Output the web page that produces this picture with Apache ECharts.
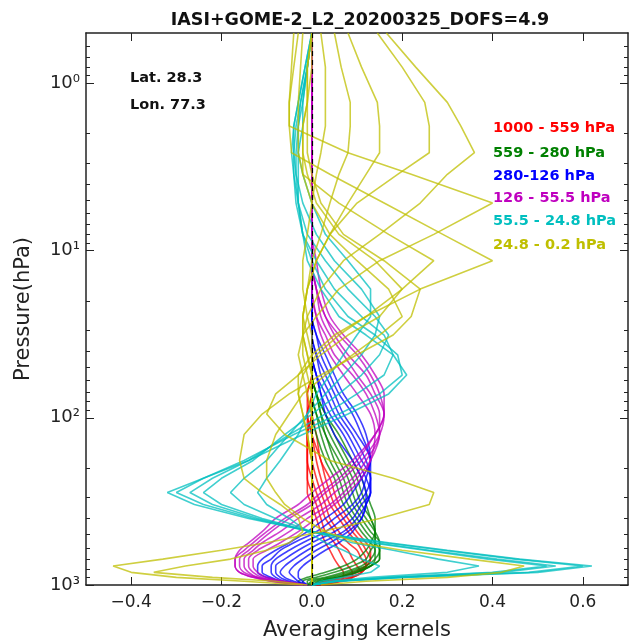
<!DOCTYPE html>
<html>
<head>
<meta charset="utf-8">
<script src="https://cdn.jsdelivr.net/npm/echarts@6.0.0/dist/echarts.min.js"></script>
<style>
  html, body { margin: 0; padding: 0; background: #fff; }
  #main { width: 633px; height: 641px; }
</style>
</head>
<body>
<div id="main"></div>
<script>
// pressure levels (hPa), surface -> top
var pressure = [1000, 950, 900, 840, 770, 700, 620, 559, 480, 400, 330, 280, 230, 180, 126, 95, 72, 55.5, 42, 32, 24.8, 17, 11.5, 8, 5.2, 3.5, 2.6, 1.8, 1.3, 0.8, 0.5];

var xTicks = [-0.4, -0.2, 0, 0.2, 0.4, 0.6];
var yTicks = [1, 10, 100, 1000];
var yTickLabels = ['10⁰', '10¹', '10²', '10³'];
var yMinorTicks = [0.6, 0.7, 0.8, 0.9, 2, 3, 4, 5, 6, 7, 8, 9, 20, 30, 40, 50, 60, 70, 80, 90, 200, 300, 400, 500, 600, 700, 800, 900];

var legendLabels = ['1000 - 559 hPa', '559 - 280 hPa', '280-126 hPa', '126 - 55.5 hPa', '55.5 - 24.8 hPa', '24.8 - 0.2 hPa'];

// averaging kernel rows, one per retrieval level, values at the pressure levels above
var redKernels = [
  [0.02,0.06,0.07,0.07,0.06, 0.05,0.04,0.03,0.02,0.01, 0,-0.01,-0.01,-0.01,-0.01, 0,0,0,0,0, 0,0,0,0,0, 0,0,0,0,0, 0],
  [0.01,0.07,0.09,0.09,0.08, 0.07,0.06,0.05,0.03,0.02, 0.01,0,-0.01,-0.01,-0.01, 0,0,0,0,0, 0,0,0,0,0, 0,0,0,0,0, 0],
  [0.01,0.06,0.09,0.11,0.10, 0.09,0.08,0.06,0.05,0.03, 0.02,0.01,0,-0.01,-0.01, 0,0,0,0,0, 0,0,0,0,0, 0,0,0,0,0, 0],
  [0,0.05,0.09,0.11,0.12, 0.11,0.10,0.08,0.06,0.04, 0.03,0.02,0.01,0,-0.01, -0.01,0,0,0,0, 0,0,0,0,0, 0,0,0,0,0, 0],
  [0,0.04,0.08,0.11,0.12, 0.12,0.11,0.10,0.08,0.06, 0.04,0.03,0.02,0.01,0, -0.01,0,0,0,0, 0,0,0,0,0, 0,0,0,0,0, 0],
  [0,0.03,0.07,0.10,0.12, 0.13,0.12,0.11,0.09,0.07, 0.05,0.04,0.03,0.02,0, -0.01,-0.01,0,0,0, 0,0,0,0,0, 0,0,0,0,0, 0],
  [0,0.02,0.06,0.09,0.12, 0.13,0.13,0.12,0.10,0.08, 0.06,0.05,0.04,0.02,0.01, 0,-0.01,0,0,0, 0,0,0,0,0, 0,0,0,0,0, 0]
];
var greenKernels = [
  [0,0.02,0.06,0.10,0.13, 0.14,0.14,0.13,0.11,0.09, 0.07,0.06,0.05,0.03,0.01, 0,0,0,0,0, 0,0,0,0,0, 0,0,0,0,0, 0],
  [0,0.02,0.06,0.10,0.13, 0.15,0.15,0.14,0.12,0.10, 0.08,0.07,0.06,0.04,0.02, 0.01,0,0,0,0, 0,0,0,0,0, 0,0,0,0,0, 0],
  [-0.01,0.01,0.05,0.09,0.13, 0.15,0.15,0.15,0.13,0.11, 0.09,0.08,0.07,0.05,0.03, 0.01,0,0,0,0, 0,0,0,0,0, 0,0,0,0,0, 0],
  [-0.01,0,0.04,0.08,0.12, 0.14,0.15,0.15,0.14,0.12, 0.10,0.09,0.08,0.06,0.03, 0.02,0.01,0,0,0, 0,0,0,0,0, 0,0,0,0,0, 0],
  [-0.01,-0.01,0.03,0.07,0.11, 0.13,0.14,0.14,0.14,0.13, 0.11,0.10,0.09,0.07,0.04, 0.02,0.01,0,0,0, 0,0,0,0,0, 0,0,0,0,0, 0],
  [-0.02,-0.02,0.01,0.05,0.09, 0.12,0.13,0.14,0.14,0.13, 0.12,0.11,0.10,0.08,0.05, 0.03,0.01,0,0,0, 0,0,0,0,0, 0,0,0,0,0, 0],
  [-0.02,-0.03,-0.01,0.03,0.07, 0.10,0.12,0.13,0.14,0.14, 0.13,0.12,0.11,0.09,0.06, 0.03,0.01,0,0,0, 0,0,0,0,0, 0,0,0,0,0, 0]
];
var blueKernels = [
  [-0.01,-0.02,-0.03,-0.03,-0.02, 0,0.03,0.06,0.09,0.11, 0.12,0.12,0.11,0.09,0.05, 0.03,0.02,0.01,0,0, 0,0,0,0,0, 0,0,0,0,0, 0],
  [-0.01,-0.03,-0.04,-0.05,-0.04, -0.02,0.01,0.04,0.08,0.11, 0.12,0.13,0.12,0.10,0.07, 0.04,0.02,0.01,0,0, 0,0,0,0,0, 0,0,0,0,0, 0],
  [-0.01,-0.04,-0.06,-0.07,-0.06, -0.04,-0.01,0.02,0.07,0.10, 0.12,0.13,0.13,0.11,0.08, 0.05,0.03,0.01,0,0, 0,0,0,0,0, 0,0,0,0,0, 0],
  [-0.02,-0.05,-0.07,-0.08,-0.08, -0.06,-0.03,0,0.05,0.09, 0.11,0.13,0.13,0.12,0.09, 0.06,0.04,0.02,0.01,0, 0,0,0,0,0, 0,0,0,0,0, 0],
  [-0.02,-0.06,-0.08,-0.09,-0.09, -0.08,-0.05,-0.02,0.03,0.07, 0.10,0.12,0.13,0.13,0.10, 0.07,0.05,0.03,0.01,0, 0,0,0,0,0, 0,0,0,0,0, 0],
  [-0.02,-0.07,-0.09,-0.11,-0.11, -0.09,-0.07,-0.04,0.01,0.05, 0.09,0.11,0.12,0.13,0.11, 0.09,0.06,0.04,0.02,0.01, 0,0,0,0,0, 0,0,0,0,0, 0],
  [-0.03,-0.07,-0.10,-0.12,-0.12, -0.11,-0.08,-0.05,-0.01,0.03, 0.07,0.09,0.11,0.13,0.12, 0.10,0.07,0.05,0.03,0.01, 0,0,0,0,0, 0,0,0,0,0, 0]
];
var magentaKernels = [
  [-0.01,-0.06,-0.10,-0.12,-0.13, -0.13,-0.10,-0.07,-0.03,0.01, 0.05,0.08,0.11,0.13,0.14, 0.13,0.10,0.07,0.04,0.02, 0.01,0,0,0,0, 0,0,0,0,0, 0],
  [-0.01,-0.07,-0.11,-0.13,-0.14, -0.14,-0.12,-0.09,-0.05,-0.01, 0.04,0.07,0.10,0.13,0.15, 0.14,0.12,0.09,0.05,0.03, 0.01,0,0,0,0, 0,0,0,0,0, 0],
  [-0.02,-0.08,-0.12,-0.14,-0.15, -0.15,-0.13,-0.11,-0.07,-0.03, 0.02,0.05,0.09,0.12,0.15, 0.15,0.13,0.10,0.07,0.04, 0.02,0.01,0,0,0, 0,0,0,0,0, 0],
  [-0.02,-0.08,-0.12,-0.15,-0.16, -0.16,-0.14,-0.12,-0.09,-0.05, 0,0.03,0.07,0.11,0.15, 0.16,0.14,0.12,0.08,0.05, 0.03,0.01,0,0,0, 0,0,0,0,0, 0],
  [-0.02,-0.09,-0.13,-0.16,-0.17, -0.17,-0.15,-0.13,-0.10,-0.06, -0.01,0.02,0.06,0.10,0.14, 0.16,0.15,0.13,0.10,0.06, 0.03,0.01,0,0,0, 0,0,0,0,0, 0],
  [-0.03,-0.09,-0.13,-0.16,-0.17, -0.17,-0.16,-0.14,-0.11,-0.08, -0.03,0,0.04,0.09,0.14, 0.16,0.16,0.14,0.11,0.07, 0.04,0.02,0.01,0,0, 0,0,0,0,0, 0]
];
var cyanKernels = [
  [0,0.06,0.20,0.50,0.62, 0.46,0.30,0.17,0,-0.14, -0.26,-0.32,-0.24,-0.14,-0.02, 0.08,0.17,0.21,0.18,0.12, 0.06,0.02,-0.01,-0.02,-0.03, -0.03,-0.03,-0.02,-0.02,-0.01, 0],
  [0,0.06,0.20,0.48,0.60, 0.45,0.29,0.16,0,-0.13, -0.24,-0.30,-0.24,-0.15,-0.04, 0.06,0.15,0.20,0.19,0.14, 0.08,0.03,0,-0.02,-0.03, -0.035,-0.035,-0.03,-0.02,-0.01, 0],
  [0,0.05,0.18,0.42,0.54, 0.41,0.26,0.14,0,-0.12, -0.22,-0.27,-0.22,-0.14,-0.05, 0.03,0.10,0.16,0.18,0.16, 0.11,0.05,0.01,-0.02,-0.035, -0.04,-0.04,-0.035,-0.025,-0.01, 0],
  [0,0.05,0.17,0.40,0.52, 0.39,0.25,0.13,0,-0.11, -0.20,-0.24,-0.20,-0.13,-0.06, 0,0.06,0.11,0.15,0.17, 0.14,0.08,0.03,-0.01,-0.03, -0.04,-0.045,-0.04,-0.03,-0.015, 0],
  [0,0.04,0.13,0.30,0.37, 0.28,0.18,0.09,0,-0.08, -0.15,-0.18,-0.15,-0.10,-0.05, -0.01,0.03,0.07,0.11,0.14, 0.15,0.11,0.05,0.01,-0.02, -0.035,-0.04,-0.04,-0.03,-0.015, 0],
  [0,0.02,0.07,0.13,0.15, 0.11,0.07,0.03,-0.01,-0.05, -0.10,-0.12,-0.10,-0.07,-0.03, -0.01,0.01,0.04,0.07,0.10, 0.13,0.13,0.08,0.03,0, -0.02,-0.03,-0.03,-0.025,-0.01, 0]
];
var yellowKernels = [
  [-0.02,-0.15,-0.30,-0.40,-0.44, -0.33,-0.20,-0.10,0.02,0.15, 0.26,0.27,0.18,0.04,-0.06, -0.10,-0.08,-0.03,0.02,0.08, 0.15,0.20,0.14,0.06,0.01, -0.01,-0.02,-0.02,-0.01,-0.01, 0],
  [-0.01,-0.08,-0.22,-0.35,-0.28, -0.18,-0.10,-0.05,-0.02,-0.03, -0.07,-0.11,-0.15,-0.16,-0.15, -0.11,-0.05,0.02,0.10,0.18, 0.22,0.24,0.16,0.07,0.02, 0,-0.01,-0.01,-0.01,0, 0],
  [0.02,0.12,0.30,0.42,0.47, 0.35,0.20,0.10,0.03,-0.02, -0.06,-0.08,-0.10,-0.10,-0.08, -0.05,-0.02,0.03,0.09,0.15, 0.20,0.17,0.10,0.04,0, -0.02,-0.02,-0.02,-0.01,-0.01, 0],
  [0,0,0,0,0, 0,0,0,0,0, 0,0,0,0,-0.01, -0.02,-0.03,-0.02,0.01,0.06, 0.12,0.20,0.27,0.17,0.06, -0.02,-0.03,-0.03,-0.03,-0.025, -0.02],
  [0,0,0,0,0, 0,0,0,0,0, 0,0,0,0,-0.01, -0.02,-0.03,-0.03,0,0.05, 0.12,0.24,0.40,0.29,0.16, 0.04,-0.045,-0.05,-0.05,-0.045, -0.04],
  [0,0,0,0,0, 0,0,0,0,0, 0,0,0,0,0, 0,-0.01,-0.02,-0.03,-0.02, 0.01,0.06,0.15,0.27,0.40, 0.22,0.08,-0.05,-0.05,-0.04, -0.03],
  [0,0,0,0,0, 0,0,0,0,0, 0,0,0,0,0, 0,0,-0.01,-0.02,-0.02, -0.01,0.02,0.07,0.15,0.24, 0.30,0.36,0.33,0.30,0.23, 0.165],
  [0,0,0,0,0, 0,0,0,0,0, 0,0,0,0,0, 0,0,0,-0.01,-0.02, -0.02,-0.01,0.01,0.04,0.10, 0.19,0.26,0.26,0.25,0.20, 0.145],
  [0,0,0,0,0, 0,0,0,0,0, 0,0,0,0,0, 0,0,0,-0.01,-0.02, -0.02,-0.01,0.01,0.04,0.08, 0.12,0.15,0.15,0.145,0.11, 0.08],
  [0,0,0,0,0, 0,0,0,0,0, 0,0,0,0,0, 0,0,0,0,-0.01, -0.02,-0.01,0,0.02,0.04, 0.06,0.08,0.085,0.085,0.065, 0.05],
  [0,0,0,0,0, 0,0,0,0,0, 0,0,0,0,0, 0,0,0,0,0, -0.01,-0.02,-0.02,-0.01,0, 0.01,0.02,0.03,0.03,0.03, 0.02]
];

var groups = [
  { color: '#ff0000', kernels: redKernels, smooth: 0.3 },
  { color: '#008000', kernels: greenKernels, smooth: 0.3 },
  { color: '#0000ff', kernels: blueKernels, smooth: 0.3 },
  { color: '#bf00bf', kernels: magentaKernels, smooth: 0.3 },
  { color: '#00bfbf', kernels: cyanKernels, smooth: false },
  { color: '#bfbf00', kernels: yellowKernels, smooth: false }
];

var series = [];
groups.forEach(function (g, gi) {
  g.kernels.forEach(function (k) {
    series.push({
      name: legendLabels[gi],
      type: 'line',
      xAxisIndex: 0,
      yAxisIndex: 0,
      data: k.map(function (v, i) { return [v, pressure[i]]; }),
      symbol: 'none',
      smooth: g.smooth,
      silent: true,
      lineStyle: { color: g.color, width: 1.6, opacity: 0.75 }
    });
  });
});
// zero line
series[0].markLine = {
  silent: true,
  symbol: 'none',
  label: { show: false },
  lineStyle: { color: '#000', type: [5, 4], width: 1.2 },
  data: [{ xAxis: 0 }]
};

var FONT = 'DejaVu Sans';
var frameLine = { show: true, onZero: false, lineStyle: { color: '#222', width: 1.5 } };
var noLine = { show: false, onZero: false };

function xAxisDef(pos, labels) {
  return {
    type: 'value', position: pos, min: -0.5, max: 0.7,
    axisLine: frameLine,
    splitLine: { show: false },
    axisTick: { show: true, inside: true, length: 8, customValues: xTicks, lineStyle: { color: '#222' } },
    axisLabel: {
      show: labels, customValues: xTicks, margin: 9,
      fontFamily: FONT, fontSize: 17, color: '#222',
      formatter: function (v) { return v.toFixed(1).replace('-', '\u2212'); }
    },
    name: labels ? 'Averaging kernels' : '',
    nameLocation: 'middle', nameGap: 35,
    nameTextStyle: { fontFamily: FONT, fontSize: 21, color: '#222' }
  };
}
function yAxisDef(pos, ticks, len, labels) {
  return {
    type: 'log', logBase: 10, position: pos, inverse: true, min: 0.5, max: 1000,
    axisLine: labels !== null ? frameLine : noLine,
    splitLine: { show: false },
    minorTick: { show: false },
    axisTick: { show: true, inside: true, length: len, customValues: ticks, lineStyle: { color: '#222' } },
    axisLabel: {
      show: !!labels, customValues: yTicks, margin: 6,
      fontFamily: FONT, fontSize: 18, color: '#222',
      formatter: function (v) {
        var i = yTicks.indexOf(Math.round(v));
        return i >= 0 ? yTickLabels[i] : '';
      }
    },
    name: labels ? 'Pressure(hPa)' : '',
    nameLocation: 'middle', nameGap: 52, nameRotate: 90,
    nameTextStyle: { fontFamily: FONT, fontSize: 21, color: '#222' }
  };
}

var legendY = [128, 153, 176, 198, 221, 245];
var graphic = [
  { type: 'text', x: 130, y: 78, style: { text: 'Lat. 28.3', font: 'bold 14.5px "DejaVu Sans"', fill: '#111', verticalAlign: 'middle' } },
  { type: 'text', x: 130, y: 105, style: { text: 'Lon. 77.3', font: 'bold 14.5px "DejaVu Sans"', fill: '#111', verticalAlign: 'middle' } }
];
legendLabels.forEach(function (t, i) {
  graphic.push({
    type: 'text', x: 493, y: legendY[i], z: 10,
    style: { text: t, font: 'bold 14.5px "DejaVu Sans"', fill: groups[i].color, verticalAlign: 'middle' }
  });
});

var myChart = echarts.init(document.getElementById('main'));
var option = {
  animation: false,
  backgroundColor: '#fff',
  title: {
    text: 'IASI+GOME-2_L2_20200325_DOFS=4.9',
    left: 355, top: 6, textAlign: 'center',
    textStyle: { fontFamily: FONT, fontSize: 17.5, fontWeight: 'bold', color: '#111' }
  },
  grid: { left: 86, right: 5, top: 33, bottom: 56, containLabel: false, outerBoundsMode: 'none' },
  xAxis: [xAxisDef('bottom', true), xAxisDef('top', false)],
  yAxis: [
    yAxisDef('left', yTicks, 8, true),
    yAxisDef('left', yMinorTicks, 4, null),
    yAxisDef('right', yTicks, 8, false),
    yAxisDef('right', yMinorTicks, 4, null)
  ],
  graphic: graphic,
  series: series
};
myChart.setOption(option);
window.addEventListener('resize', function () {
  myChart.resize();
});
</script>
</body>
</html>
